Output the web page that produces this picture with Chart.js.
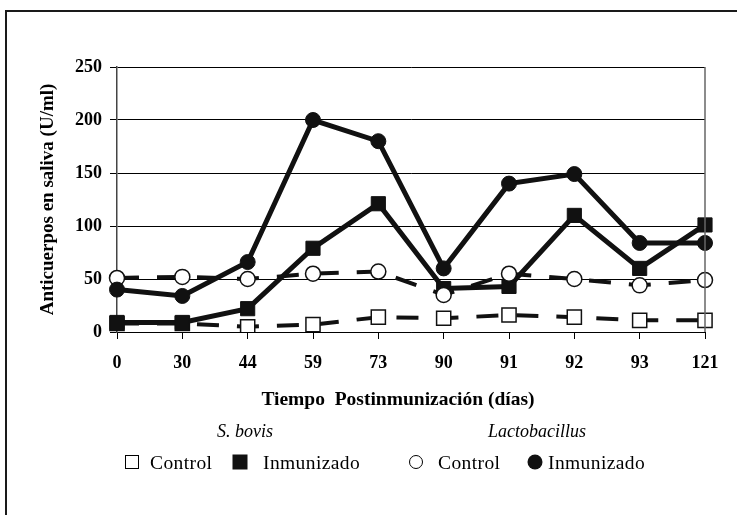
<!DOCTYPE html>
<html>
<head>
<meta charset="utf-8">
<script src="https://cdn.jsdelivr.net/npm/chart.js@4"></script>
<style>
  body { margin: 0; background: #fff; }
  #wrap { position: relative; width: 737px; height: 515px; overflow: hidden; font-family: "Liberation Serif", serif; color: #000; }
  #wrap canvas { position: absolute; left: 0; top: 0; }
  .frame-top { position: absolute; left: 5px; top: 10px; width: 732px; height: 2px; background: #1a1a1a; }
  .frame-left { position: absolute; left: 5px; top: 10px; width: 2px; height: 505px; background: #1a1a1a; }
  .txt { position: absolute; white-space: pre; line-height: 1; transform: translateY(-50%); }
  .center { transform: translate(-50%, -50%); }
  .xtitle { font-weight: bold; font-size: 19.5px; }
  .group { font-style: italic; font-size: 18px; }
  .item { font-size: 19.5px; letter-spacing: 0.4px; }
  .mark { position: absolute; box-sizing: border-box; transform: translate(-50%, -50%); }
  .sq-open { width: 14px; height: 14px; border: 1.5px solid #000; background: #fff; }
  .sq-fill { width: 15px; height: 15px; background: #111; }
  .ci-open { width: 14px; height: 14px; border: 1.5px solid #000; border-radius: 50%; background: #fff; }
  .ci-fill { width: 15px; height: 15px; border-radius: 50%; background: #111; }
</style>
</head>
<body>
<div id="wrap">
  <canvas id="chart" width="737" height="515"></canvas>
  <div class="frame-top"></div>
  <div class="frame-left"></div>

  <div class="txt center xtitle" style="left:398px; top:399px">Tiempo  Postinmunización (días)</div>

  <div class="txt center group" style="left:245px; top:431px">S. bovis</div>
  <div class="txt center group" style="left:537px; top:431px">Lactobacillus</div>

  <div class="mark sq-open" style="left:132px; top:462px"></div>
  <div class="txt item" style="left:150px; top:463px">Control</div>
  <div class="mark sq-fill" style="left:240px; top:462px"></div>
  <div class="txt item" style="left:263px; top:463px">Inmunizado</div>
  <div class="mark ci-open" style="left:416px; top:462px"></div>
  <div class="txt item" style="left:438px; top:463px">Control</div>
  <div class="mark ci-fill" style="left:535px; top:462px"></div>
  <div class="txt item" style="left:548px; top:463px">Inmunizado</div>
</div>

<script>
const days = ["0", "30", "44", "59", "73", "90", "91", "92", "93", "121"]
const yTicks = [0, 50, 100, 150, 200, 250]

const lactoInmunizado = [40, 34, 66, 200, 180, 60, 140, 149, 84, 84]
const lactoControl = [51, 52, 50, 55, 57, 35, 55, 50, 44, 49]
const bovisInmunizado = [9, 9, 22, 79, 121, 41, 43, 110, 60, 101]
const bovisControl = [8, 8, 5, 7, 14, 13, 16, 14, 11, 11]

const serif = "'Liberation Serif', 'Times New Roman', serif"

// borde derecho del area de trazado (gris, como en el original)
const plotBorder = {
  id: "plotBorder",
  afterDraw(chart) {
    const { ctx, chartArea } = chart
    ctx.save()
    ctx.strokeStyle = "#666"
    ctx.lineWidth = 1.5
    ctx.beginPath()
    ctx.moveTo(chartArea.right, chartArea.top)
    ctx.lineTo(chartArea.right, chartArea.bottom)
    ctx.stroke()
    ctx.restore()
  }
}

function series(label, data, style, dashed, open) {
  return {
    label,
    data,
    borderColor: "#111",
    borderWidth: dashed ? 4 : 5,
    borderDash: dashed ? [22, 18] : [],
    pointStyle: style,
    pointRadius: style === "rect" ? 10 : 7.5,
    pointBackgroundColor: open ? "#fff" : "#111",
    pointBorderColor: "#111",
    pointBorderWidth: open ? 1.5 : 1,
    tension: 0,
    fill: false
  }
}

new Chart(document.getElementById("chart"), {
  type: "line",
  data: {
    labels: days,
    datasets: [
      series("Lactobacillus Inmunizado", lactoInmunizado, "circle", false, false),
      series("Lactobacillus Control", lactoControl, "circle", true, true),
      series("S. bovis Inmunizado", bovisInmunizado, "rect", false, false),
      series("S. bovis Control", bovisControl, "rect", true, true)
    ]
  },
  options: {
    responsive: false,
    animation: false,
    layout: { padding: { left: 28, right: 32, top: 67, bottom: 138 } },
    plugins: {
      legend: { display: false },
      tooltip: { enabled: false }
    },
    scales: {
      x: {
        type: "category",
        offset: false,
        grid: { display: true, drawOnChartArea: false, drawTicks: true, tickLength: 7, color: "#000", lineWidth: 1 },
        border: { display: true, color: "#000", width: 1 },
        ticks: { color: "#000", padding: 14, maxRotation: 0, autoSkip: false, font: { family: serif, size: 18, weight: "bold" } },
        afterFit: (scale) => { scale.height = 45 }
      },
      y: {
        min: 0,
        max: 250,
        afterBuildTicks: (scale) => { scale.ticks = yTicks.map((value) => ({ value })) },
        grid: { color: "#000", lineWidth: 1, tickLength: 7, drawTicks: true },
        border: { display: true, color: "#444", width: 1.5 },
        ticks: { color: "#000", padding: 8, font: { family: serif, size: 18, weight: "bold" } },
        title: {
          display: true,
          text: "Anticuerpos en saliva (U/ml)",
          color: "#000",
          padding: { top: 9, bottom: 0 },
          font: { family: serif, size: 19, weight: "bold" }
        },
        afterFit: (scale) => { scale.width = 89 }
      }
    }
  },
  plugins: [ plotBorder ]
})
</script>
</body>
</html>
